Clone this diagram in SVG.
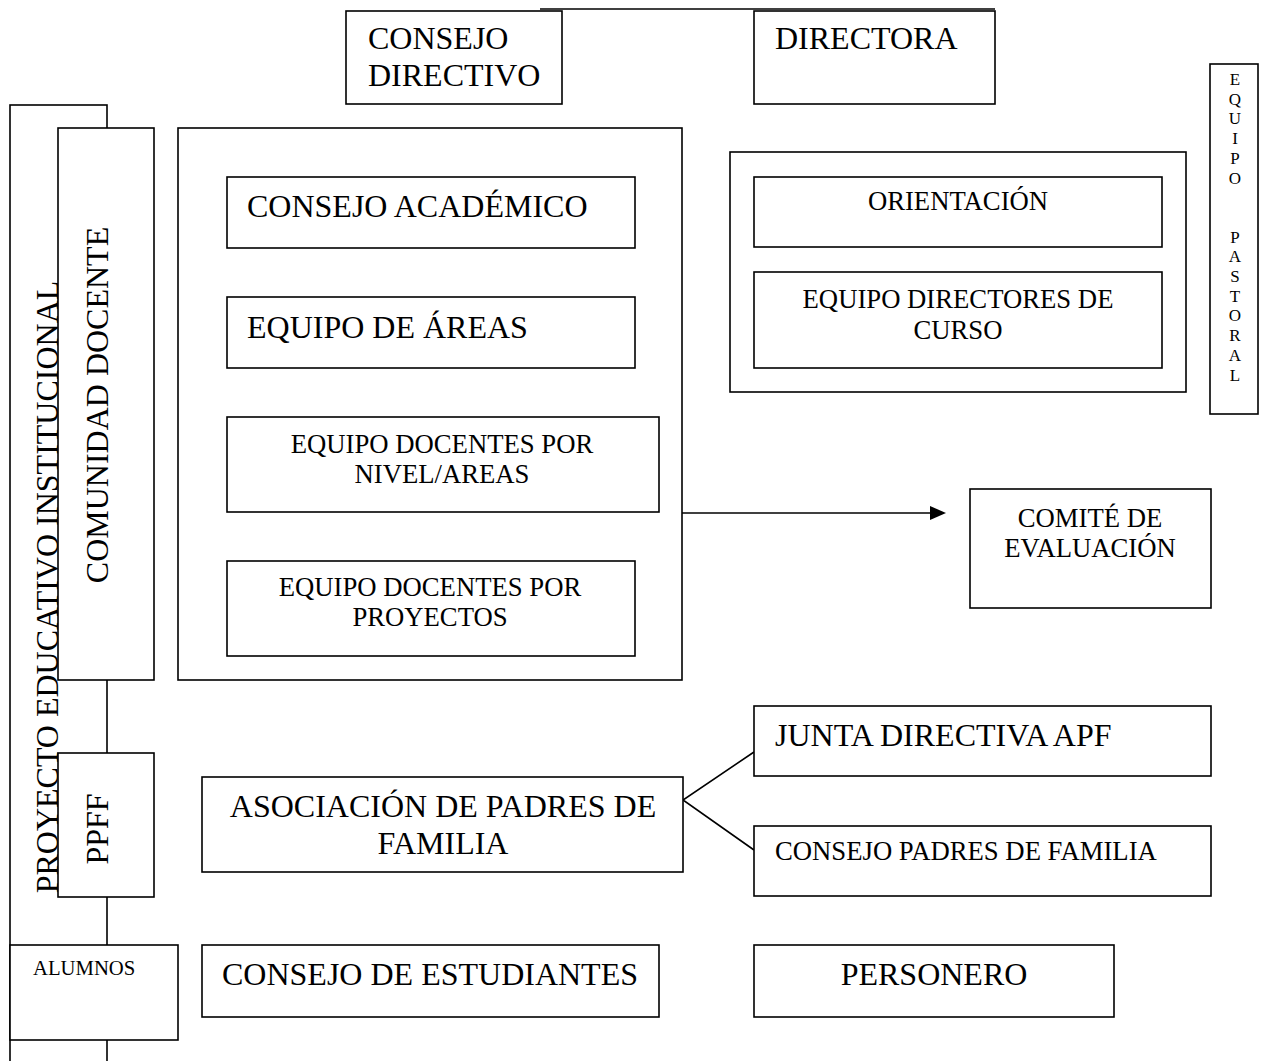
<svg xmlns="http://www.w3.org/2000/svg" width="1269" height="1061" viewBox="0 0 1269 1061">
<style>
.box{fill:#fff;stroke:#000;stroke-width:1.6}
.ln{fill:none;stroke:#000;stroke-width:1.6}
.t{font-family:"Liberation Serif","Times New Roman",serif;fill:#000}
.l{font-size:32px}
.m{font-size:26.7px}
.c{text-anchor:middle}
</style>
<rect width="1269" height="1061" fill="#fff"/>
<g id="pei">
<rect class="box" x="10" y="105" width="97" height="970"/>
<text class="t l c" transform="translate(58,587) rotate(-90)">PROYECTO EDUCATIVO INSTITUCIONAL</text>
</g>
<g id="connectors">
<line class="ln" x1="540" y1="9" x2="995" y2="9"/>
<line class="ln" x1="682" y1="513" x2="932" y2="513"/>
<polygon points="930,506 946,513 930,520" fill="#000"/>
<polyline class="ln" points="754,752 683,800 754,850"/>
</g>
<g id="consejo-directivo">
<rect class="box" x="346" y="11" width="216" height="93"/>
<text class="t l" x="368" y="49">CONSEJO</text>
<text class="t l" x="368" y="86">DIRECTIVO</text>
</g>
<g id="directora">
<rect class="box" x="754" y="11" width="241" height="93"/>
<text class="t l" x="775" y="49">DIRECTORA</text>
</g>
<g id="comunidad-docente">
<rect class="box" x="58" y="128" width="96" height="552"/>
<text class="t l c" transform="translate(108,405) rotate(-90)">COMUNIDAD DOCENTE</text>
</g>
<g id="grupo-docente">
<rect class="box" x="178" y="128" width="504" height="552"/>
</g>
<g id="consejo-academico">
<rect class="box" x="227" y="177" width="408" height="71"/>
<text class="t l" x="247" y="217">CONSEJO ACADÉMICO</text>
</g>
<g id="equipo-areas">
<rect class="box" x="227" y="297" width="408" height="71"/>
<text class="t l" x="247" y="338">EQUIPO DE ÁREAS</text>
</g>
<g id="equipo-nivel">
<rect class="box" x="227" y="417" width="432" height="95"/>
<text class="t m c" x="442" y="453">EQUIPO DOCENTES POR</text>
<text class="t m c" x="442" y="483">NIVEL/AREAS</text>
</g>
<g id="equipo-proyectos">
<rect class="box" x="227" y="561" width="408" height="95"/>
<text class="t m c" x="430" y="596">EQUIPO DOCENTES POR</text>
<text class="t m c" x="430" y="626">PROYECTOS</text>
</g>
<g id="grupo-orientacion">
<rect class="box" x="730" y="152" width="456" height="240"/>
</g>
<g id="orientacion">
<rect class="box" x="754" y="177" width="408" height="70"/>
<text class="t m c" x="958" y="210">ORIENTACIÓN</text>
</g>
<g id="directores-curso">
<rect class="box" x="754" y="272" width="408" height="96"/>
<text class="t m c" x="958" y="308">EQUIPO DIRECTORES DE</text>
<text class="t m c" x="958" y="339">CURSO</text>
</g>
<g id="equipo-pastoral">
<rect class="box" x="1210" y="64" width="48" height="350"/>
<g class="t c" font-size="17">
<text x="1235" y="85">E</text>
<text x="1235" y="104.7">Q</text>
<text x="1235" y="124.4">U</text>
<text x="1235" y="144.1">I</text>
<text x="1235" y="163.8">P</text>
<text x="1235" y="183.5">O</text>
<text x="1235" y="242.6">P</text>
<text x="1235" y="262.3">A</text>
<text x="1235" y="282">S</text>
<text x="1235" y="301.7">T</text>
<text x="1235" y="321.4">O</text>
<text x="1235" y="341.1">R</text>
<text x="1235" y="360.8">A</text>
<text x="1235" y="380.5">L</text>
</g>
</g>
<g id="comite-evaluacion">
<rect class="box" x="970" y="489" width="241" height="119"/>
<text class="t m c" x="1090" y="527">COMITÉ DE</text>
<text class="t m c" x="1090" y="557">EVALUACIÓN</text>
</g>
<g id="ppff">
<rect class="box" x="58" y="753" width="96" height="144"/>
<text class="t l c" transform="translate(108,829) rotate(-90)">PPFF</text>
</g>
<g id="asociacion-padres">
<rect class="box" x="202" y="777" width="481" height="95"/>
<text class="t l c" x="443" y="817">ASOCIACIÓN DE PADRES DE</text>
<text class="t l c" x="443" y="854">FAMILIA</text>
</g>
<g id="junta-directiva">
<rect class="box" x="754" y="706" width="457" height="70"/>
<text class="t l" x="775" y="746">JUNTA DIRECTIVA APF</text>
</g>
<g id="consejo-padres">
<rect class="box" x="754" y="826" width="457" height="70"/>
<text class="t m" x="775" y="860">CONSEJO PADRES DE FAMILIA</text>
</g>
<g id="alumnos">
<rect class="box" x="10" y="945" width="168" height="95"/>
<text class="t" font-size="20.7" x="33" y="975">ALUMNOS</text>
</g>
<g id="consejo-estudiantes">
<rect class="box" x="202" y="945" width="457" height="72"/>
<text class="t l" x="222" y="985">CONSEJO DE ESTUDIANTES</text>
</g>
<g id="personero">
<rect class="box" x="754" y="945" width="360" height="72"/>
<text class="t l c" x="934" y="985">PERSONERO</text>
</g>
</svg>
